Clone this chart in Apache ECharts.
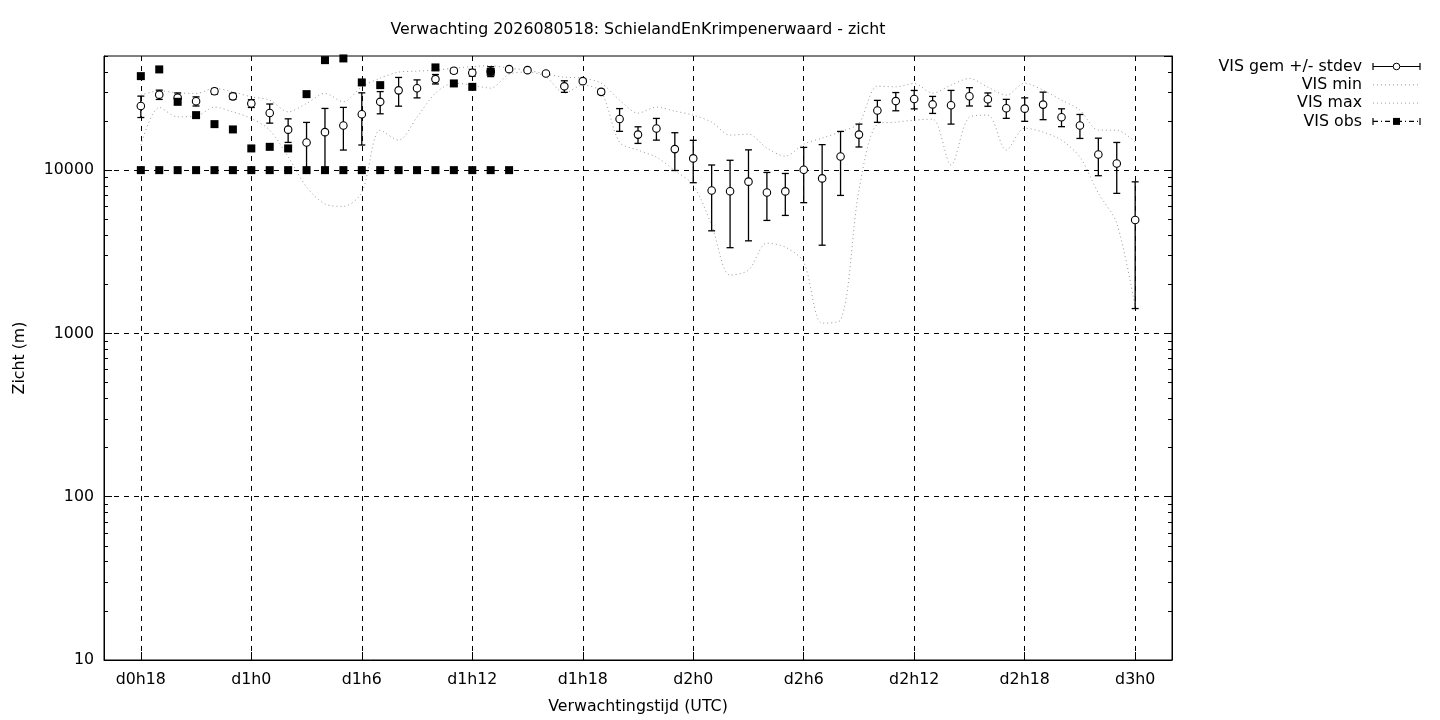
<!DOCTYPE html>
<html>
<head>
<meta charset="utf-8">
<title>Verwachting zicht</title>
<script src="https://cdn.jsdelivr.net/npm/echarts@6/dist/echarts.min.js"></script>
<style>
  html, body { margin: 0; padding: 0; background: #fff; }
  #chart { width: 1440px; height: 720px; }
</style>
</head>
<body>
<div id="chart"></div>
<script>
// hours since d0h0 covered by the x axis
var firstHour = 16, lastHour = 74;
// forecast hours start at d0h18 (one value per hour up to d3h0)
var startHour = 18;

// VIS gem (mean) and stdev, d0h18 .. d3h0
var visMean = [24700, 29000, 27800, 26400, 30400, 28300, 25600, 22400, 17700, 14770,
  17090, 18750, 22000, 26200, 30800, 31700, 36100, 40600, 39500, 40200,
  41550, 40970, 39100, 32600, 35080, 30150, 20550, 16500, 18000, 13450,
  11800, 7500, 7420, 8500, 7300, 7410, 10050, 8900, 12130, 16500,
  23180, 26480, 27240, 25260, 24960, 28350, 27150, 23940, 23800, 25200,
  21100, 18780, 12470, 10990, 4950];
var visStd = [3700, 1900, 1900, 1700, 1200, 1200, 1400, 3000, 2915, 4830,
  6780, 5475, 7750, 4070, 6150, 4000, 2400, 1400, 1870, 2800,
  600, 600, 600, 2650, 600, 1050, 3270, 1925, 2735, 3500,
  3425, 3250, 4070, 4810, 2380, 2130, 3730, 5430, 5130, 2640,
  3560, 3385, 3515, 3015, 5820, 3635, 2545, 3185, 3900, 4830,
  2640, 3145, 3225, 3785, 3530];
var visMin = [14230, 24200, 21200, 21400, 24300, 22750, 20730, 17580, 12060, 7900,
  6200, 6000, 7300, 17580, 15260, 21110, 29610, 34100, 33150, 31780,
  38720, 39830, 37280, 29610, 33150, 30100, 14800, 13260, 12010, 9930,
  8092, 4604, 2275, 2441, 3573, 3377, 2733, 1156, 1206, 7543,
  19130, 19670, 20240, 20530, 10730, 21110, 21720, 13260, 18080, 17090,
  15260, 12010, 7232, 4735, 1449];
var visMax = [28790, 30590, 29740, 29500, 31650, 30160, 28100, 26840, 22750, 25600,
  29500, 26200, 32360, 36600, 39830, 40400, 40970, 42130, 43040, 43650,
  42130, 40970, 38720, 37110, 36600, 34100, 26840, 22340, 24310, 22980,
  21720, 19670, 16380, 16610, 13640, 12180, 14430, 15710, 17160, 19400,
  32690, 32360, 33960, 29610, 33150, 36430, 32230, 28790, 34100, 30900,
  26840, 23300, 17580, 17580, 14840];
// observations (two per hour), d0h18 ..
var visObsA = [37640, 41380, 26200, 21720, 19130, 17750, 13580, 13890, 13580, 29200,
  47160, 48310, 34440, 33150, null, null, 42560, 33960, 32360, 40000];
var visObsB = [10000, 10000, 10000, 10000, 10000, 10000, 10000, 10000, 10000, 10000,
  10000, 10000, 10000, 10000, 10000, 10000, 10000, 10000, 10000, 10000, 10000];

var FONT = 'DejaVu Sans';
var FS = 15.8;

var categories = [];
for (var h = firstHour; h <= lastHour; h++) {
  categories.push('d' + Math.floor(h / 24) + 'h' + (h % 24));
}
var offset = startHour - firstHour;
function isMajor(idx) { return idx >= offset && (idx - offset) % 6 === 0; }

function pairs(arr) {
  var out = [];
  arr.forEach(function (v, i) { if (v != null) out.push([i + offset, v]); });
  return out;
}
var errData = visMean.map(function (m, i) { return [i + offset, m, visStd[i]]; });

var minorVals = [];
[10, 100, 1000, 10000].forEach(function (d) {
  for (var k = 2; k <= 9; k++) { if (k * d <= 50000) minorVals.push(k * d); }
});

function logAxis(pos, major) {
  var ax = {
    type: 'log', logBase: 10, min: 10, max: 50000, position: pos,
    axisLine: { show: major, lineStyle: { color: '#000', width: 1 } },
    axisTick: { show: true, inside: true, length: major ? 8 : 4, lineStyle: { color: '#000' } },
    axisLabel: { show: false },
    splitLine: { show: false }
  };
  if (!major) ax.axisTick.customValues = minorVals;
  return ax;
}

var yMain = logAxis('left', true);
yMain.name = 'Zicht (m)';
yMain.nameLocation = 'middle';
yMain.nameGap = 76;
yMain.nameRotate = 90;
yMain.nameTextStyle = { color: '#000', fontFamily: FONT, fontSize: FS };
yMain.axisLabel = {
  show: true, color: '#000', fontFamily: FONT, fontSize: FS, margin: 10, showMaxLabel: false,
  formatter: function (v) { return String(Math.round(v)); }
};
yMain.splitLine = { show: true, showMinLine: false, showMaxLine: false, lineStyle: { color: '#000', width: 1, type: [5, 5] } };

var chart = echarts.init(document.getElementById('chart'));

var option = {
  animation: false,
  backgroundColor: '#fff',
  grid: { left: 104, right: 268, top: 56, bottom: 60, show: true, borderColor: '#000', borderWidth: 1, backgroundColor: 'transparent' },
  xAxis: {
    type: 'category', data: categories, boundaryGap: false,
    name: 'Verwachtingstijd (UTC)', nameLocation: 'middle', nameGap: 39,
    nameTextStyle: { color: '#000', fontFamily: FONT, fontSize: FS },
    axisLine: { show: true, lineStyle: { color: '#000', width: 1 } },
    axisTick: { show: true, inside: true, length: 8, interval: isMajor, lineStyle: { color: '#000' } },
    axisLabel: { color: '#000', fontFamily: FONT, fontSize: FS, margin: 12, interval: isMajor },
    splitLine: { show: true, interval: isMajor, lineStyle: { color: '#000', width: 1, type: [5, 5] } }
  },
  yAxis: [yMain, logAxis('left', false), logAxis('right', true), logAxis('right', false)],
  series: [
    {
      name: 'VIS gem +/- stdev', type: 'custom', data: errData, encode: { x: 0, y: 1 }, z: 3,
      renderItem: function (params, api) {
        var x = api.value(0), m = api.value(1), s = api.value(2);
        var top = api.coord([x, m + s]);
        var bot = api.coord([x, m - s]);
        var cap = 3.5;
        var st = { stroke: '#000', lineWidth: 1.3 };
        return {
          type: 'group', children: [
            { type: 'line', shape: { x1: top[0], y1: top[1], x2: bot[0], y2: bot[1] }, style: st },
            { type: 'line', shape: { x1: top[0] - cap, y1: top[1], x2: top[0] + cap, y2: top[1] }, style: st },
            { type: 'line', shape: { x1: bot[0] - cap, y1: bot[1], x2: bot[0] + cap, y2: bot[1] }, style: st }
          ]
        };
      }
    },
    {
      name: 'VIS gem', type: 'scatter', data: pairs(visMean), symbol: 'circle', symbolSize: 7.5, z: 4,
      itemStyle: { color: '#fff', borderColor: '#000', borderWidth: 1.1, opacity: 1 }
    },
    {
      name: 'VIS min', type: 'line', data: pairs(visMin), showSymbol: false, smooth: 0.3, z: 2,
      lineStyle: { color: '#999', width: 1, type: [1, 3] }
    },
    {
      name: 'VIS max', type: 'line', data: pairs(visMax), showSymbol: false, smooth: 0.3, z: 2,
      lineStyle: { color: '#999', width: 1, type: [1, 3] }
    },
    {
      name: 'VIS obs', type: 'scatter', data: pairs(visObsA), symbol: 'rect', symbolSize: 8, z: 5,
      itemStyle: { color: '#000', opacity: 1 }
    },
    {
      name: 'VIS obs', type: 'scatter', data: pairs(visObsB), symbol: 'rect', symbolSize: 8, z: 5,
      itemStyle: { color: '#000', opacity: 1 }
    }
  ],
  graphic: []
};

// title
option.graphic.push({
  type: 'text', x: 638, y: 30,
  style: { text: 'Verwachting 2026080518: SchielandEnKrimpenerwaard - zicht', font: FS + 'px "' + FONT + '"', fill: '#000', textAlign: 'center', textVerticalAlign: 'middle' }
});

// legend (gnuplot style, text right aligned, sample on the right)
var legendNames = ['VIS gem +/- stdev', 'VIS min', 'VIS max', 'VIS obs'];
var lx0 = 1373, lx1 = 1420, lxc = 1396.5;
legendNames.forEach(function (name, i) {
  var y = 66.5 + i * 18.3;
  option.graphic.push({
    type: 'text', x: 1362, y: y,
    style: { text: name, font: FS + 'px "' + FONT + '"', fill: '#000', textAlign: 'right', textVerticalAlign: 'middle' }
  });
  var solid = { stroke: '#000', lineWidth: 1.2 };
  if (i === 0 || i === 3) {
    option.graphic.push({ type: 'line', shape: { x1: lx0, y1: y, x2: lx1, y2: y }, style: i === 0 ? solid : { stroke: '#000', lineWidth: 1.2, lineDash: [5, 3, 1, 3] } });
    option.graphic.push({ type: 'line', shape: { x1: lx0, y1: y - 3.5, x2: lx0, y2: y + 3.5 }, style: solid });
    option.graphic.push({ type: 'line', shape: { x1: lx1, y1: y - 3.5, x2: lx1, y2: y + 3.5 }, style: solid });
    if (i === 0) {
      option.graphic.push({ type: 'circle', shape: { cx: lxc, cy: y, r: 3.3 }, style: { fill: '#fff', stroke: '#000', lineWidth: 1 } });
    } else {
      option.graphic.push({ type: 'rect', shape: { x: lxc - 3.5, y: y - 3.5, width: 7, height: 7 }, style: { fill: '#000' } });
    }
  } else {
    option.graphic.push({ type: 'line', shape: { x1: lx0, y1: y, x2: lx1, y2: y }, style: { stroke: '#999', lineWidth: 1, lineDash: [1, 3] } });
  }
});

chart.setOption(option);
</script>
</body>
</html>
